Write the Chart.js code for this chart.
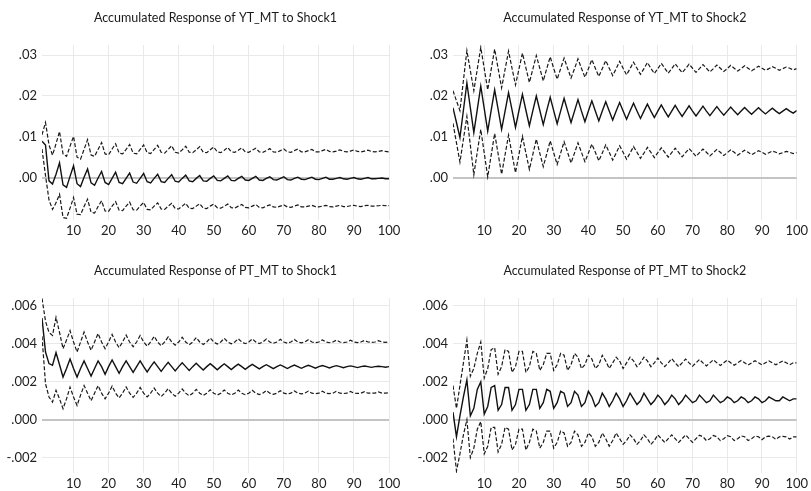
<!DOCTYPE html>
<html lang="en">
<head>
<meta charset="utf-8">
<title>Accumulated Responses</title>
<script src="https://cdn.jsdelivr.net/npm/chart.js@4/dist/chart.umd.min.js"></script>
<style>
  body { margin: 0; width: 811px; height: 491px; overflow: hidden; background: #fff; }
  .panel { position: absolute; height: 245px; }
</style>
</head>
<body>

<div class="panel" style="left:0;top:0;width:405px"><canvas id="c1" width="405" height="245"></canvas></div>
<div class="panel" style="left:405px;top:0;width:406px"><canvas id="c2" width="406" height="245"></canvas></div>
<div class="panel" style="left:0;top:253px;width:405px"><canvas id="c3" width="405" height="245"></canvas></div>
<div class="panel" style="left:405px;top:253px;width:406px"><canvas id="c4" width="406" height="245"></canvas></div>

<script>
// periods 1..100
var periods = [];
for (var i = 1; i <= 100; i++) periods.push(i);

var xTicks = [10, 20, 30, 40, 50, 60, 70, 80, 90, 100];
var yTicksYT = [0, 0.01, 0.02, 0.03];
var yTicksPT = [-0.002, 0, 0.002, 0.004, 0.006];

// YT_MT to Shock1
var yt1Mid = [0.0089,0.0080,-0.0008,-0.0016,0.0008,0.0036,-0.0018,-0.0024,0.0003,0.0029,
  -0.0015,-0.0022,0.0001,0.0021,-0.0013,-0.0019,-0.0001,0.0015,-0.0012,-0.0017,
  -0.0002,0.0013,-0.0012,-0.0015,-0.0002,0.0011,-0.0011,-0.0014,-0.0002,0.0010,
  -0.0010,-0.0013,-0.0002,0.0008,-0.0010,-0.0012,-0.0002,0.0007,-0.0009,-0.0011,
  -0.0002,0.0006,-0.0008,-0.0010,-0.0002,0.0005,-0.0008,-0.0009,-0.0002,0.0004,
  -0.0007,-0.0008,-0.0002,0.0004,-0.0007,-0.0008,-0.0002,0.0003,-0.0006,-0.0007,
  -0.0002,0.0003,-0.0006,-0.0007,-0.0002,0.0002,-0.0005,-0.0006,-0.0002,0.0002,
  -0.0005,-0.0006,-0.0002,0.0001,-0.0004,-0.0005,-0.0002,0.0001,-0.0004,-0.0005,
  -0.0002,0.0001,-0.0004,-0.0004,-0.0002,0.0000,-0.0003,-0.0004,-0.0002,0.0000,
  -0.0003,-0.0004,-0.0002,0.0000,-0.0003,-0.0003,-0.0002,-0.0001,-0.0003,-0.0003];
var yt1Up = [0.0105,0.0135,0.0080,0.0055,0.0083,0.0113,0.0058,0.0052,0.0077,0.0101,
  0.0050,0.0045,0.0069,0.0093,0.0055,0.0052,0.0069,0.0086,0.0058,0.0056,
  0.0070,0.0083,0.0060,0.0058,0.0069,0.0081,0.0060,0.0058,0.0069,0.0080,
  0.0061,0.0059,0.0069,0.0079,0.0062,0.0060,0.0069,0.0078,0.0062,0.0060,
  0.0068,0.0077,0.0062,0.0061,0.0068,0.0076,0.0062,0.0061,0.0068,0.0075,
  0.0063,0.0061,0.0067,0.0074,0.0063,0.0062,0.0067,0.0073,0.0063,0.0062,
  0.0067,0.0072,0.0063,0.0062,0.0066,0.0071,0.0063,0.0062,0.0066,0.0070,
  0.0063,0.0062,0.0066,0.0070,0.0063,0.0063,0.0066,0.0069,0.0063,0.0063,
  0.0066,0.0069,0.0064,0.0063,0.0065,0.0068,0.0064,0.0063,0.0065,0.0068,
  0.0064,0.0063,0.0065,0.0067,0.0064,0.0063,0.0064,0.0066,0.0064,0.0063];
var yt1Low = [0.0070,0.0005,-0.0055,-0.0078,-0.0062,-0.0041,-0.0098,-0.0100,-0.0075,-0.0049,
  -0.0090,-0.0091,-0.0071,-0.0053,-0.0085,-0.0087,-0.0071,-0.0057,-0.0082,-0.0083,
  -0.0070,-0.0059,-0.0080,-0.0081,-0.0070,-0.0060,-0.0079,-0.0080,-0.0070,-0.0061,
  -0.0078,-0.0079,-0.0070,-0.0062,-0.0077,-0.0078,-0.0070,-0.0063,-0.0076,-0.0077,
  -0.0070,-0.0063,-0.0075,-0.0076,-0.0070,-0.0064,-0.0075,-0.0076,-0.0070,-0.0065,
  -0.0074,-0.0075,-0.0070,-0.0065,-0.0074,-0.0075,-0.0070,-0.0066,-0.0073,-0.0074,
  -0.0070,-0.0066,-0.0073,-0.0074,-0.0070,-0.0067,-0.0072,-0.0073,-0.0070,-0.0067,
  -0.0072,-0.0073,-0.0070,-0.0067,-0.0072,-0.0072,-0.0070,-0.0068,-0.0071,-0.0072,
  -0.0070,-0.0068,-0.0071,-0.0072,-0.0070,-0.0068,-0.0071,-0.0071,-0.0069,-0.0068,
  -0.0070,-0.0071,-0.0069,-0.0068,-0.0070,-0.0070,-0.0069,-0.0068,-0.0069,-0.0069];

// YT_MT to Shock2
var yt2Mid = [0.0171,0.0135,0.0098,0.0165,0.0232,0.0171,0.0110,0.0167,0.0224,0.0169,
  0.0114,0.0165,0.0215,0.0167,0.0118,0.0163,0.0208,0.0166,0.0123,0.0164,
  0.0204,0.0165,0.0127,0.0164,0.0200,0.0165,0.0130,0.0164,0.0197,0.0164,
  0.0132,0.0163,0.0194,0.0164,0.0135,0.0163,0.0191,0.0163,0.0137,0.0163,
  0.0188,0.0163,0.0139,0.0163,0.0186,0.0163,0.0141,0.0163,0.0184,0.0163,
  0.0143,0.0163,0.0182,0.0163,0.0145,0.0163,0.0180,0.0163,0.0147,0.0163,
  0.0178,0.0163,0.0149,0.0163,0.0177,0.0163,0.0150,0.0163,0.0176,0.0163,
  0.0151,0.0163,0.0175,0.0163,0.0152,0.0163,0.0174,0.0163,0.0153,0.0163,
  0.0173,0.0163,0.0154,0.0163,0.0172,0.0163,0.0155,0.0163,0.0171,0.0163,
  0.0156,0.0163,0.0170,0.0163,0.0157,0.0163,0.0169,0.0163,0.0158,0.0164];
var yt2Up = [0.0213,0.0188,0.0164,0.0238,0.0311,0.0262,0.0213,0.0266,0.0319,0.0267,
  0.0215,0.0265,0.0315,0.0267,0.0220,0.0265,0.0310,0.0268,0.0227,0.0266,
  0.0305,0.0269,0.0233,0.0266,0.0299,0.0268,0.0237,0.0267,0.0296,0.0268,
  0.0241,0.0267,0.0293,0.0268,0.0244,0.0267,0.0291,0.0268,0.0246,0.0267,
  0.0289,0.0268,0.0248,0.0267,0.0287,0.0268,0.0250,0.0267,0.0285,0.0268,
  0.0252,0.0267,0.0283,0.0268,0.0253,0.0267,0.0282,0.0268,0.0255,0.0267,
  0.0280,0.0268,0.0256,0.0267,0.0279,0.0268,0.0257,0.0267,0.0278,0.0268,
  0.0258,0.0267,0.0277,0.0268,0.0259,0.0267,0.0276,0.0268,0.0260,0.0267,
  0.0275,0.0268,0.0261,0.0267,0.0274,0.0268,0.0262,0.0267,0.0273,0.0268,
  0.0263,0.0267,0.0272,0.0268,0.0263,0.0267,0.0271,0.0268,0.0264,0.0267];
var yt2Low = [0.0133,0.0085,0.0038,0.0094,0.0150,0.0079,0.0007,0.0063,0.0118,0.0060,
  0.0002,0.0055,0.0108,0.0058,0.0008,0.0056,0.0104,0.0058,0.0012,0.0057,
  0.0101,0.0060,0.0020,0.0057,0.0094,0.0060,0.0027,0.0058,0.0090,0.0061,
  0.0032,0.0060,0.0088,0.0062,0.0036,0.0060,0.0085,0.0062,0.0039,0.0060,
  0.0082,0.0062,0.0041,0.0060,0.0080,0.0062,0.0043,0.0060,0.0078,0.0062,
  0.0045,0.0060,0.0076,0.0062,0.0047,0.0060,0.0074,0.0062,0.0049,0.0061,
  0.0073,0.0062,0.0050,0.0061,0.0072,0.0062,0.0051,0.0061,0.0071,0.0062,
  0.0052,0.0061,0.0070,0.0062,0.0053,0.0061,0.0069,0.0062,0.0054,0.0061,
  0.0068,0.0062,0.0055,0.0061,0.0067,0.0062,0.0056,0.0061,0.0066,0.0062,
  0.0057,0.0061,0.0065,0.0062,0.0058,0.0061,0.0064,0.0062,0.0059,0.0061];

// PT_MT to Shock1
var pt1Mid = [0.00536,0.00357,0.00296,0.00287,0.00354,0.00290,0.00225,0.00270,0.00320,0.00270,
  0.00225,0.00270,0.00310,0.00270,0.00230,0.00270,0.00310,0.00280,0.00240,0.00280,
  0.00315,0.00280,0.00245,0.00280,0.00310,0.00280,0.00250,0.00280,0.00310,0.00280,
  0.00252,0.00280,0.00305,0.00280,0.00255,0.00280,0.00303,0.00280,0.00257,0.00280,
  0.00300,0.00280,0.00260,0.00280,0.00298,0.00280,0.00262,0.00280,0.00296,0.00280,
  0.00263,0.00280,0.00295,0.00280,0.00265,0.00280,0.00293,0.00280,0.00266,0.00280,
  0.00292,0.00280,0.00268,0.00280,0.00290,0.00280,0.00269,0.00280,0.00289,0.00280,
  0.00270,0.00280,0.00288,0.00280,0.00271,0.00280,0.00287,0.00280,0.00272,0.00280,
  0.00286,0.00280,0.00273,0.00280,0.00285,0.00280,0.00274,0.00280,0.00284,0.00280,
  0.00275,0.00280,0.00283,0.00280,0.00276,0.00280,0.00282,0.00280,0.00277,0.00280];
var pt1Up = [0.00640,0.00520,0.00460,0.00445,0.00540,0.00460,0.00375,0.00420,0.00470,0.00410,
  0.00357,0.00410,0.00462,0.00410,0.00366,0.00410,0.00455,0.00410,0.00375,0.00410,
  0.00450,0.00410,0.00380,0.00410,0.00447,0.00410,0.00385,0.00410,0.00444,0.00410,
  0.00388,0.00410,0.00440,0.00410,0.00390,0.00410,0.00437,0.00410,0.00393,0.00410,
  0.00435,0.00410,0.00395,0.00410,0.00433,0.00410,0.00397,0.00410,0.00431,0.00410,
  0.00399,0.00410,0.00429,0.00410,0.00400,0.00410,0.00427,0.00410,0.00401,0.00410,
  0.00426,0.00410,0.00402,0.00410,0.00425,0.00410,0.00403,0.00410,0.00424,0.00410,
  0.00404,0.00410,0.00423,0.00410,0.00405,0.00410,0.00422,0.00410,0.00406,0.00410,
  0.00421,0.00410,0.00406,0.00410,0.00420,0.00410,0.00407,0.00410,0.00419,0.00410,
  0.00407,0.00410,0.00418,0.00410,0.00408,0.00410,0.00417,0.00410,0.00408,0.00410];
var pt1Low = [0.00440,0.00190,0.00120,0.00093,0.00155,0.00110,0.00058,0.00110,0.00172,0.00120,
  0.00075,0.00130,0.00180,0.00140,0.00100,0.00140,0.00180,0.00140,0.00110,0.00140,
  0.00177,0.00140,0.00115,0.00140,0.00173,0.00140,0.00118,0.00140,0.00170,0.00140,
  0.00120,0.00140,0.00167,0.00140,0.00122,0.00140,0.00164,0.00140,0.00124,0.00140,
  0.00162,0.00140,0.00126,0.00140,0.00160,0.00140,0.00128,0.00140,0.00158,0.00140,
  0.00130,0.00140,0.00157,0.00140,0.00131,0.00140,0.00156,0.00140,0.00132,0.00140,
  0.00155,0.00140,0.00133,0.00140,0.00154,0.00140,0.00134,0.00140,0.00153,0.00140,
  0.00135,0.00140,0.00152,0.00140,0.00136,0.00140,0.00151,0.00140,0.00137,0.00140,
  0.00150,0.00140,0.00138,0.00140,0.00150,0.00140,0.00138,0.00140,0.00149,0.00140,
  0.00139,0.00140,0.00148,0.00140,0.00140,0.00140,0.00147,0.00140,0.00140,0.00143];

// PT_MT to Shock2
var pt2Mid = [0.0004,-0.0009,0.0002,0.0012,0.0021,0.0002,0.0006,0.0016,0.0020,0.0003,
  0.0007,0.0017,0.0018,0.0005,0.0008,0.0017,0.0017,0.0005,0.0008,0.0016,
  0.0016,0.0005,0.0008,0.0016,0.0016,0.0006,0.0009,0.0016,0.0015,0.0006,
  0.0009,0.0015,0.0014,0.0007,0.0009,0.0015,0.0013,0.0007,0.0009,0.0015,
  0.0012,0.0007,0.0009,0.0014,0.0011,0.0007,0.0010,0.0014,0.0011,0.0007,
  0.0010,0.0014,0.0011,0.0008,0.0010,0.0014,0.0011,0.0008,0.0010,0.0013,
  0.0011,0.0008,0.0010,0.0013,0.0011,0.0008,0.0010,0.0013,0.0011,0.0009,
  0.0010,0.0013,0.0011,0.0009,0.0010,0.0013,0.0011,0.0009,0.0010,0.0012,
  0.0011,0.0009,0.0010,0.0012,0.0011,0.0009,0.0010,0.0012,0.0011,0.0009,
  0.0010,0.0012,0.0011,0.0010,0.0010,0.0012,0.0011,0.0010,0.0011,0.0011];
var pt2Up = [0.0018,0.0006,0.0018,0.0030,0.0042,0.0023,0.0027,0.0035,0.0041,0.0022,
  0.0027,0.0037,0.0038,0.0024,0.0028,0.0037,0.0036,0.0025,0.0028,0.0036,
  0.0036,0.0025,0.0028,0.0036,0.0035,0.0026,0.0029,0.0035,0.0035,0.0026,
  0.0029,0.0035,0.0034,0.0026,0.0029,0.0035,0.0033,0.0027,0.0029,0.0034,
  0.0032,0.0027,0.0029,0.0034,0.0031,0.0027,0.0030,0.0033,0.0031,0.0027,
  0.0030,0.0033,0.0031,0.0028,0.0030,0.0033,0.0031,0.0028,0.0030,0.00325,
  0.0030,0.0028,0.0030,0.00322,0.0030,0.0028,0.0030,0.0032,0.0030,0.00282,
  0.0030,0.00318,0.0030,0.00284,0.0030,0.00316,0.0030,0.00286,0.0030,0.00314,
  0.0030,0.00287,0.0030,0.00312,0.0030,0.00288,0.0030,0.00311,0.0030,0.00289,
  0.0030,0.0031,0.0030,0.0029,0.0030,0.0031,0.0030,0.0029,0.0030,0.0030];
var pt2Low = [-0.0010,-0.0027,-0.0018,-0.0008,0.0000,-0.0020,-0.0015,-0.0005,-0.0001,-0.0018,
  -0.0014,-0.0004,-0.0004,-0.0017,-0.0013,-0.0004,-0.0005,-0.0016,-0.0013,-0.0005,
  -0.0005,-0.0016,-0.0012,-0.0005,-0.0006,-0.0015,-0.0012,-0.0006,-0.0006,-0.0015,
  -0.0012,-0.0006,-0.0007,-0.0014,-0.0012,-0.0006,-0.0008,-0.0014,-0.0012,-0.0007,
  -0.0009,-0.0014,-0.0012,-0.0007,-0.0010,-0.0014,-0.0011,-0.0007,-0.0010,-0.0013,
  -0.0011,-0.0008,-0.0010,-0.0013,-0.0011,-0.0008,-0.0010,-0.0013,-0.0011,-0.0008,
  -0.0010,-0.0012,-0.0010,-0.0008,-0.0010,-0.0012,-0.0010,-0.0008,-0.0010,-0.0012,
  -0.0010,-0.00082,-0.0009,-0.0011,-0.0010,-0.00083,-0.0009,-0.0011,-0.0010,-0.00084,
  -0.0009,-0.0011,-0.0010,-0.00085,-0.0009,-0.0011,-0.0010,-0.00086,-0.0009,-0.00105,
  -0.0009,-0.00087,-0.0009,-0.00104,-0.0009,-0.00088,-0.0009,-0.00102,-0.0009,-0.0009];

function pts(vals) {
  return vals.map(function (v, i) { return { x: periods[i], y: v }; });
}

function fmt(dec) {
  return function (v) {
    var s = Number(v).toFixed(dec);
    return s.replace('0.', '.');
  };
}

function panel(id, title, mid, up, low, yMin, yMax, yTicks, dec, axisW, padR) {
  var dashed = { borderColor: '#1a1a1a', borderWidth: 1.2, borderDash: [4, 2], pointRadius: 0, tension: 0, fill: false };
  new Chart(document.getElementById(id), {
    type: 'line',
    data: {
      datasets: [
        Object.assign({ data: pts(up) }, dashed),
        { data: pts(mid), borderColor: '#111', borderWidth: 1.4, pointRadius: 0, tension: 0, fill: false },
        Object.assign({ data: pts(low) }, dashed)
      ]
    },
    options: {
      responsive: false,
      animation: false,
      layout: { padding: { left: 0, right: padR, top: 0, bottom: 0 } },
      plugins: {
        legend: { display: false },
        tooltip: { enabled: false },
        title: {
          display: true, text: title, fullSize: false, color: '#1a1a1a',
          font: { family: 'Lato', size: 12.5, weight: 'normal' },
          padding: { top: 10, bottom: 20 }
        }
      },
      scales: {
        x: {
          type: 'linear', min: 1, max: 100,
          afterBuildTicks: function (s) { s.ticks = xTicks.map(function (v) { return { value: v }; }); },
          afterFit: function (s) { s.height = 25; },
          border: { display: false },
          grid: { color: '#e9e9e9', drawTicks: false },
          ticks: { padding: 3, color: '#222', font: { family: 'Lato', size: 13 }, maxRotation: 0 }
        },
        y: {
          min: yMin, max: yMax,
          afterBuildTicks: function (s) { s.ticks = yTicks.map(function (v) { return { value: v }; }); },
          afterFit: function (s) { s.width = axisW; },
          border: { display: false },
          grid: {
            drawTicks: false,
            color: function (c) { return c.tick && c.tick.value === 0 ? '#c4c4c4' : '#e9e9e9'; },
            lineWidth: function (c) { return c.tick && c.tick.value === 0 ? 2 : 1; }
          },
          ticks: { padding: 5, color: '#222', font: { family: 'Lato', size: 13 }, callback: fmt(dec) }
        }
      }
    }
  });
}

panel('c1', 'Accumulated Response of YT_MT to Shock1', yt1Mid, yt1Up, yt1Low, -0.0104, 0.0325, yTicksYT, 2, 42, 16);
panel('c2', 'Accumulated Response of YT_MT to Shock2', yt2Mid, yt2Up, yt2Low, -0.0104, 0.0325, yTicksYT, 2, 48, 11);
panel('c3', 'Accumulated Response of PT_MT to Shock1', pt1Mid, pt1Up, pt1Low, -0.00281, 0.00642, yTicksPT, 3, 42, 16);
panel('c4', 'Accumulated Response of PT_MT to Shock2', pt2Mid, pt2Up, pt2Low, -0.00281, 0.00642, yTicksPT, 3, 48, 11);
</script>
</body>
</html>
